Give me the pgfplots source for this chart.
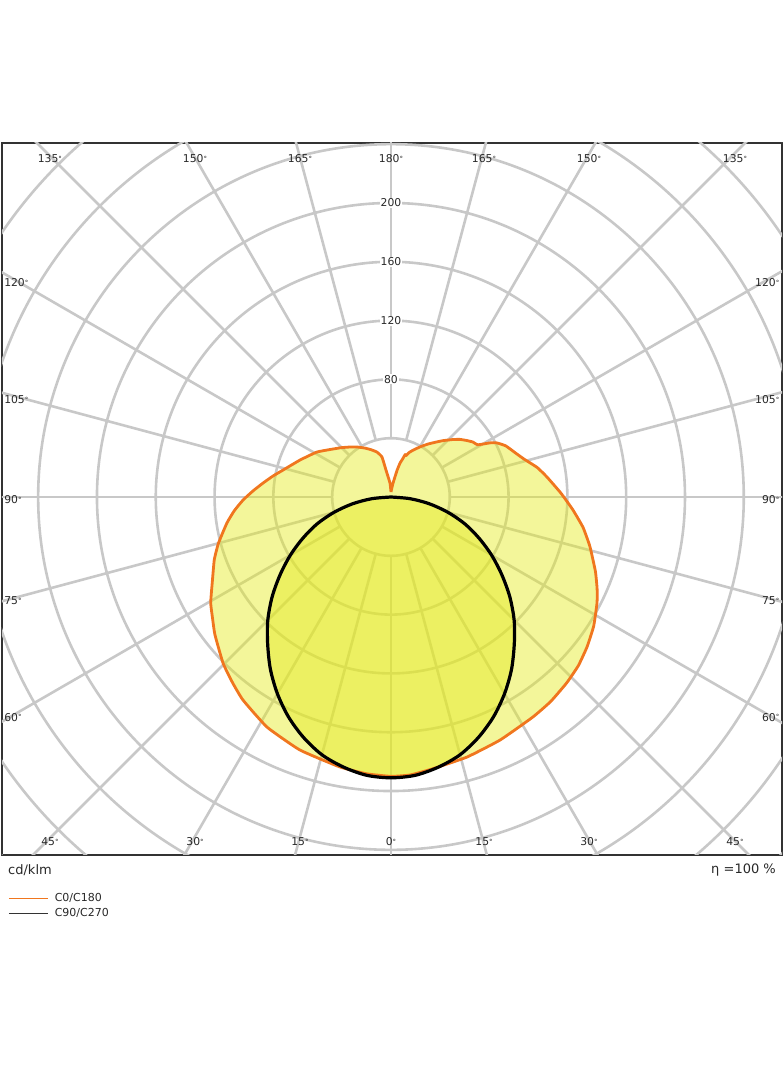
\documentclass[border=0pt]{standalone}
\usepackage{fontspec}
\setmainfont{DejaVu Sans}
\usepackage{pgfplots}
\usepackage{pgfplotstable}
\pgfplotsset{compat=1.18}
\definecolor{gridc}{RGB}{200,200,200}
\definecolor{framec}{RGB}{51,51,51}
\definecolor{orc}{RGB}{240,118,30}
\definecolor{yfill}{RGB}{228,234,30}
\definecolor{labc}{RGB}{40,40,40}
\newcommand\dg{\raisebox{0.12em}{\scalebox{0.65}{°}}}
\tikzset{
  gridline/.style={draw=gridc, line width=2.6pt},
  lbl/.style={font=\fontsize{10.8}{12}\selectfont, text=labc, inner sep=0pt},
}

% C0/C180: signed angle (negative = C180 side, positive = C0 side), cd/klm
\pgfplotstableread{
a r
-180 3.4
-176 9.5
-169.5 18.7
-167.3 27.9
-162.7 32
-157 35
-152 37.7
-146 41
-140.6 44
-135 47.5
-129.6 51.2
-121.3 58.9
-112.1 66.8
-104 75.7
-100.1 81.5
-96.2 87.6
-92.5 94
-88.8 100.7
-85 107
-81 113
-75 121.5
-70.5 127.5
-65 134
-59.6 142.2
-56 146.5
-52 152
-45.3 160.7
-40.5 166
-36.1 170.9
-28.3 177.8
-19.8 182.9
-10.7 186.9
-5 189
0 190
4 189.5
8.8 187
16.3 184.3
24.2 181.2
32.8 178.1
38 176.5
43.4 174
48 171.5
52.6 167.9
57.5 163.5
62.8 157.6
66 153.5
70 148
76 139.5
81 132.3
86 124
91.4 115.5
97.3 107
101.4 101.5
106 94
109.8 89.5
114 85.5
117 81
118.6 77
121 69
124 67
127 64
130 61
133 57.3
137 52.5
140 49
145 44
150 39.3
155 35
158 32.5
160 30
161.5 30.5
163 27
165 24
167 19
169 13.5
172 9
176 5
180 3.4
}\orangedata

% C90/C270
\pgfplotstableread{
a r
-90 0
-85 13
-80 26.5
-75 40
-70 53.5
-65 66
-60 79
-55 92
-50 105.5
-45 118.5
-40 130.5
-35 143
-30 154.5
-25 165
-20 174
-15 181.5
-10 186.5
-5 190
0 191
5 190
10 186.5
15 181.5
20 174
25 165
30 154.5
35 143
40 130.5
45 118.5
50 105.5
55 92
60 79
65 66
70 53.5
75 40
80 26.5
85 13
90 0
}\blackdata

\begin{document}
\begin{tikzpicture}[x=1pt,y=1pt]
\begin{axis}[
  at={(2pt,211pt)}, anchor=south west,
  width=780pt, height=712pt, scale only axis,
  xmin=-264.6, xmax=266.0, ymin=-243.5, ymax=240.8,
  axis line style={draw=framec, line width=2.5pt},
  xtick=\empty, ytick=\empty,
  clip=true,
  legend cell align=left,
  legend style={at={(axis description cs:0.0077,-0.052)}, anchor=north west,
    draw=none, fill=none, inner sep=0pt, row sep=2pt,
    font=\fontsize{11}{13}\selectfont, text=labc, nodes={inner sep=1.5pt}},
  legend image code/.code={\draw[#1] (0pt,0pt) -- (39pt,0pt); \path (44pt,0pt);},
]
% grid
\pgfplotsinvokeforeach{40,80,...,400}{\draw[gridline] (axis cs:0,0) circle[radius=#1];}
\pgfplotsinvokeforeach{0,15,...,345}{\draw[gridline] (axis cs:{40*sin(#1)},{40*cos(#1)}) -- (axis cs:{420*sin(#1)},{420*cos(#1)});}
\pgfplotsinvokeforeach{80,120,160,200}{\node[lbl, fill=white, inner sep=1pt] at (axis cs:0,#1) {#1};}

% fills
\addplot[forget plot, draw=none, fill=yfill, fill opacity=0.45, smooth, tension=0.25]
  table[x expr={\thisrow{r}*sin(\thisrow{a})}, y expr={-\thisrow{r}*cos(\thisrow{a})}] {\orangedata};
\addplot[forget plot, draw=none, fill=yfill, fill opacity=0.45, smooth, tension=0.5]
  table[x expr={\thisrow{r}*sin(\thisrow{a})}, y expr={-\thisrow{r}*cos(\thisrow{a})}] {\blackdata};
% outlines
\addplot[forget plot, draw=orc, line width=2.8pt, line join=round, smooth, tension=0.25]
  table[x expr={\thisrow{r}*sin(\thisrow{a})}, y expr={-\thisrow{r}*cos(\thisrow{a})}] {\orangedata};
\addplot[forget plot, draw=black, line width=3.2pt, smooth, tension=0.5]
  table[x expr={\thisrow{r}*sin(\thisrow{a})}, y expr={-\thisrow{r}*cos(\thisrow{a})}] {\blackdata};

% legend
\addlegendimage{orc, line width=1.1pt}
\addlegendentry{C0/C180}
\addlegendimage{black!80, line width=1.1pt}
\addlegendentry{C90/C270}

% angle labels: top
\node[lbl] at (axis cs:-232,229.9) {135\dg};
\node[lbl] at (axis cs:-133.3,229.9) {150\dg};
\node[lbl] at (axis cs:-61.9,229.9) {165\dg};
\node[lbl] at (axis cs:0,229.9) {180\dg};
\node[lbl] at (axis cs:63.3,229.9) {165\dg};
\node[lbl] at (axis cs:134.7,229.9) {150\dg};
\node[lbl] at (axis cs:234,229.9) {135\dg};
% bottom
\node[lbl] at (axis cs:-232,-234.7) {45\dg};
\node[lbl] at (axis cs:-133.3,-234.7) {30\dg};
\node[lbl] at (axis cs:-61.9,-234.7) {15\dg};
\node[lbl] at (axis cs:0,-234.7) {0\dg};
\node[lbl] at (axis cs:63.3,-234.7) {15\dg};
\node[lbl] at (axis cs:134.7,-234.7) {30\dg};
\node[lbl] at (axis cs:234,-234.7) {45\dg};
% left
\node[lbl, anchor=west] at (axis cs:-263.2,145.6) {120\dg};
\node[lbl, anchor=west] at (axis cs:-263.2,66) {105\dg};
\node[lbl, anchor=west] at (axis cs:-263.2,-2) {90\dg};
\node[lbl, anchor=west] at (axis cs:-263.2,-70.7) {75\dg};
\node[lbl, anchor=west] at (axis cs:-263.2,-149.7) {60\dg};
% right
\node[lbl, anchor=east] at (axis cs:264.3,145.6) {120\dg};
\node[lbl, anchor=east] at (axis cs:264.3,66) {105\dg};
\node[lbl, anchor=east] at (axis cs:264.3,-2) {90\dg};
\node[lbl, anchor=east] at (axis cs:264.3,-70.7) {75\dg};
\node[lbl, anchor=east] at (axis cs:264.3,-149.7) {60\dg};
\end{axis}
\node[anchor=west, font=\fontsize{13}{15}\selectfont, text=labc, inner sep=0pt] at (8,196) {cd/klm};
\node[anchor=east, font=\fontsize{13}{15}\selectfont, text=labc, inner sep=0pt] at (776,196) {η =100 \%};
\pgfresetboundingbox
\path[use as bounding box] (0,0) rectangle (784,1066);
\end{tikzpicture}
\end{document}
